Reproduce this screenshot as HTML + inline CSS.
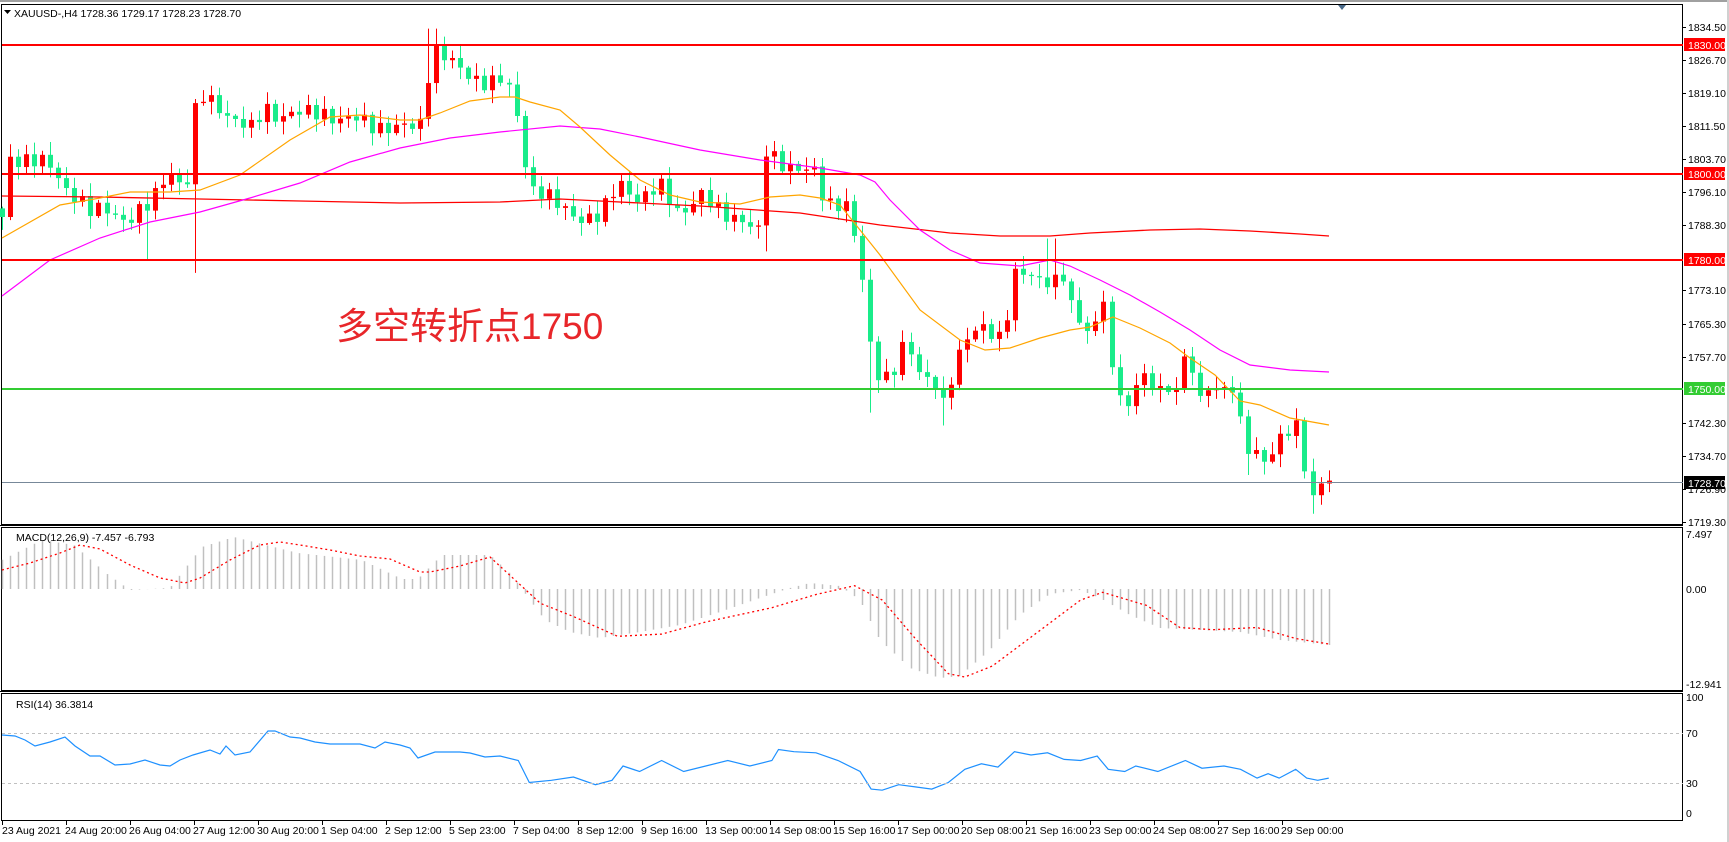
<!DOCTYPE html>
<html><head><meta charset="utf-8"><style>
html,body{margin:0;padding:0;background:#fff;}
svg{display:block;font-family:"Liberation Sans",sans-serif;}
.t{font-size:10.5px;fill:#000;}
</style></head><body>
<svg id="s" width="1729" height="842" viewBox="0 0 1729 842" xmlns="http://www.w3.org/2000/svg">
<rect x="0" y="0" width="1729" height="842" fill="#fff"/>
<rect x="0" y="0" width="1729" height="2" fill="#a0a0a0"/>
<rect x="1727" y="0" width="2" height="842" fill="#d0d0d0"/>
<rect x="1.5" y="4.5" width="1681" height="520" fill="none" stroke="#000" stroke-width="1"/>
<rect x="1.5" y="527.5" width="1681" height="163" fill="none" stroke="#000" stroke-width="1"/>
<rect x="1.5" y="693.5" width="1681" height="127" fill="none" stroke="#000" stroke-width="1"/>
<line x1="0" y1="525.5" x2="1683" y2="525.5" stroke="#000"/>
<line x1="0" y1="691.5" x2="1683" y2="691.5" stroke="#000"/>
<g id="g"></g>
<line x1="2" y1="45" x2="1683" y2="45" stroke="#ff0000" stroke-width="2"/>
<line x1="2" y1="174" x2="1683" y2="174" stroke="#ff0000" stroke-width="2"/>
<line x1="2" y1="260" x2="1683" y2="260" stroke="#ff0000" stroke-width="2"/>
<line x1="2" y1="389" x2="1683" y2="389" stroke="#33cc33" stroke-width="2"/>
<line x1="2" y1="482.5" x2="1683" y2="482.5" stroke="#778899" stroke-width="1"/>
<line x1="2" y1="733.5" x2="1683" y2="733.5" stroke="#c0c0c0" stroke-dasharray="3,3"/>
<line x1="2" y1="783.5" x2="1683" y2="783.5" stroke="#c0c0c0" stroke-dasharray="3,3"/>
<path d="M4 10 L11 10 L7.5 14 Z" fill="#000"/>
<text class="t" x="14" y="17">XAUUSD-,H4  1728.36 1729.17 1728.23 1728.70</text>
<path d="M1338 5 L1346 5 L1342 10 Z" fill="#4a6a8a"/>
<text x="336" y="339" font-family="'Liberation Sans','Noto Sans CJK SC',sans-serif" font-size="37" fill="#e8262a">多空转折点1750</text>
<text class="t" x="16" y="541">MACD(12,26,9) -7.457 -6.793</text>
<text class="t" x="16" y="708">RSI(14) 36.3814</text>
<g class="t">
<text x="1688" y="31">1834.50</text>
<text x="1688" y="64">1826.70</text>
<text x="1688" y="97">1819.10</text>
<text x="1688" y="130">1811.50</text>
<text x="1688" y="163">1803.70</text>
<text x="1688" y="196">1796.10</text>
<text x="1688" y="229">1788.30</text>
<text x="1688" y="294">1773.10</text>
<text x="1688" y="328">1765.30</text>
<text x="1688" y="361">1757.70</text>
<text x="1688" y="427">1742.30</text>
<text x="1688" y="460">1734.70</text>
<text x="1688" y="493">1726.90</text>
<text x="1688" y="526">1719.30</text>
<text x="1686" y="538">7.497</text>
<text x="1686" y="593">0.00</text>
<text x="1686" y="688">-12.941</text>
<text x="1686" y="701">100</text>
<text x="1686" y="737">70</text>
<text x="1686" y="787">30</text>
<text x="1686" y="817">0</text>
</g>
<rect x="1684" y="38" width="41" height="13" fill="#ff0000"/><text class="t" x="1688" y="49" style="fill:#fff">1830.00</text>
<rect x="1684" y="167" width="41" height="13" fill="#ff0000"/><text class="t" x="1688" y="178" style="fill:#fff">1800.00</text>
<rect x="1684" y="253" width="41" height="13" fill="#ff0000"/><text class="t" x="1688" y="264" style="fill:#fff">1780.00</text>
<rect x="1684" y="382" width="41" height="13" fill="#33cc33"/><text class="t" x="1688" y="393" style="fill:#fff">1750.00</text>
<rect x="1684" y="476" width="41" height="13" fill="#000"/><text class="t" x="1688" y="487" style="fill:#fff">1728.70</text>
<g class="t">
<text x="2" y="834">23 Aug 2021</text>
<text x="65" y="834">24 Aug 20:00</text>
<text x="129" y="834">26 Aug 04:00</text>
<text x="193" y="834">27 Aug 12:00</text>
<text x="257" y="834">30 Aug 20:00</text>
<text x="321" y="834">1 Sep 04:00</text>
<text x="385" y="834">2 Sep 12:00</text>
<text x="449" y="834">5 Sep 23:00</text>
<text x="513" y="834">7 Sep 04:00</text>
<text x="577" y="834">8 Sep 12:00</text>
<text x="641" y="834">9 Sep 16:00</text>
<text x="705" y="834">13 Sep 00:00</text>
<text x="769" y="834">14 Sep 08:00</text>
<text x="833" y="834">15 Sep 16:00</text>
<text x="897" y="834">17 Sep 00:00</text>
<text x="961" y="834">20 Sep 08:00</text>
<text x="1025" y="834">21 Sep 16:00</text>
<text x="1089" y="834">23 Sep 00:00</text>
<text x="1153" y="834">24 Sep 08:00</text>
<text x="1217" y="834">27 Sep 16:00</text>
<text x="1281" y="834">29 Sep 00:00</text>
</g>
</svg>
<script>
(function(){
var NS="http://www.w3.org/2000/svg",g=document.getElementById('g');
function el(n,a){var e=document.createElementNS(NS,n);for(var k in a)e.setAttribute(k,a[k]);g.appendChild(e);return e;}
function interp(P,x){if(x<=P[0][0])return P[0][1];for(var i=1;i<P.length;i++){if(x<=P[i][0]){var a=P[i-1],b=P[i];return a[1]+(b[1]-a[1])*(x-a[0])/(b[0]-a[0]);}}return P[P.length-1][1];}
function Y(p){return 45+(1830-p)*4.3;}
for(var i=0;i<21;i++){el('line',{x1:2+64*i+.5,y1:821,x2:2+64*i+.5,y2:825,stroke:'#000'});}
[27,60,93,126,159,192,225,290,324,357,423,456,489,522].forEach(function(y){el('line',{x1:1683,y1:y+.5,x2:1686,y2:y+.5,stroke:'#000'});});
var K=[[2,1790],[10,1804],[30,1803],[50,1802],[66,1797],[75,1795],[90,1791],[110,1792],[125,1789],[140,1791],[150,1793],[165,1800],[175,1801],[185,1793],[192,1812],[200,1818],[215,1817],[230,1813],[250,1810],[265,1816],[280,1813],[300,1814],[320,1815],[340,1812],[360,1813],[380,1811],[400,1810],[420,1812],[432,1829],[440,1828],[455,1825],[470,1823],[490,1821],[505,1822],[512,1817],[520,1811],[528,1797],[540,1796],[560,1792],[580,1790],[600,1790],[620,1798],[640,1794],[660,1797],[680,1791],[700,1795],[720,1791],[740,1790],[758,1786],[765,1805],[780,1803],[800,1801],[815,1800],[825,1793],[845,1794],[855,1785],[865,1771],[873,1754],[890,1753],[905,1761],[921,1752],[937,1752],[944,1746],[952,1754],[968,1762],[984,1765],[1000,1762],[1008,1768],[1016,1777],[1040,1776],[1056,1775],[1061,1778],[1072,1768],[1089,1763.5],[1097,1766.5],[1105,1773],[1113,1751],[1121,1748],[1129,1745.6],[1137,1752],[1145,1754],[1153,1749],[1161,1751],[1169,1749],[1177,1750],[1185,1758.8],[1193,1753],[1201,1747.7],[1209,1750],[1217,1750],[1225,1750.5],[1233,1749],[1241,1743],[1249,1734],[1257,1736],[1265,1732.8],[1273,1735],[1281,1740],[1289,1739],[1297,1743],[1305,1730],[1313,1725],[1321,1728.2],[1329,1728.7]];
var N=166,prev=1792;
for(var i=0;i<N;i++){
 var x=2+i*8.04; if(i==N-1)x=1329;
 var c=interp(K,x);
 var jit=(x<1105)?(1.6*Math.sin(i*2.7)+0.8*Math.sin(i*5.3)):0;
 c+=jit;
 var o=prev; if(Math.abs(c-o)<0.25)c=o+0.3;
 var hi=Math.max(o,c)+0.4+Math.abs(Math.sin(i*1.3))*2.6;
 var lo=Math.min(o,c)-0.4-Math.abs(Math.cos(i*1.7))*2.6;
 if(Math.abs(x-432)<5)hi=1833.8; if(Math.abs(x-146)<5)lo=1780; if(Math.abs(x-194)<5)lo=1777;
 if(Math.abs(x-873)<5)lo=1744.5; if(Math.abs(x-944)<5)lo=1741.5; if(Math.abs(x-1052)<5)hi=1785; if(Math.abs(x-1249)<5)lo=1730;
 if(Math.abs(x-1313)<5)lo=1721; if(Math.abs(x-765)<5)lo=1782;
 var col=c>=o?'#ff0000':'#19ec8a';
 var cx=Math.round(x)+0.5;
 el('line',{x1:cx,y1:Y(hi),x2:cx,y2:Y(lo),stroke:col,'stroke-width':1});
 var yt=Y(Math.max(o,c)),yb=Y(Math.min(o,c));
 el('rect',{x:Math.round(x)-2,y:yt,width:5,height:Math.max(1,yb-yt),fill:col});
 prev=c;
}
function poly(P,col,w,dash){el('polyline',{points:P.map(function(p){return p[0]+','+p[1];}).join(' '),fill:'none',stroke:col,'stroke-width':w||1,'stroke-dasharray':dash||'none'});}
poly([[2,196],[100,197],[200,199],[300,201],[400,203],[500,202],[560,199],[600,201],[700,206],[800,213],[880,225],[950,233],[1000,236],[1050,236],[1090,233],[1150,230],[1200,229],[1250,231],[1300,234],[1329,236]],'#ff0000',1.3);
poly([[2,296],[50,260],[100,238],[150,222],[200,212],[250,198],[300,183],[350,162],[400,148],[450,138],[500,132],[560,126],[600,129],[640,137],[700,150],[760,160],[820,168],[860,175],[875,182],[890,200],[920,230],[950,250],[980,263],[1020,266],[1050,260],[1070,266],[1100,280],[1130,295],[1160,312],[1190,330],[1220,350],[1250,365],[1290,370],[1329,372]],'#ff00ff',1.2);
poly([[2,238],[60,205],[100,198],[130,192],[170,192],[200,190],[240,175],[290,140],[330,117],[360,115],[400,120],[420,120],[440,113],[470,101],[500,97],[515,97],[530,102],[560,110],[580,127],[610,155],[640,180],[670,195],[700,202],[740,204],[770,197],[800,195],[820,198],[840,205],[860,230],[880,255],[920,310],[960,340],[985,350],[1010,348],[1040,338],[1070,330],[1090,327],[1113,317],[1140,328],[1170,343],[1190,358],[1215,375],[1240,401],[1260,405],[1290,418],[1329,425]],'#ffa500',1.2);
var H=[[2,560],[42,540],[74,545],[106,573],[130,590],[170,588],[202,547],[234,537],[298,553],[362,560],[402,579],[418,579],[442,555],[490,555],[512,575],[530,600],[545,620],[570,632],[600,638],[640,632],[680,625],[720,612],[760,598],[790,588],[810,583],[840,586],[860,600],[880,640],[910,668],[940,678],[960,676],[990,650],[1020,615],[1050,594],[1080,590],[1100,598],[1130,615],[1160,628],[1200,630],[1240,632],[1280,640],[1329,645]];
for(var i=0;i<N;i++){var x=Math.round(2+i*8.04)+0.5;if(i==N-1)x=1329.5;var y=interp(H,x);el('line',{x1:x,y1:589,x2:x,y2:y,stroke:'#c0c0c0','stroke-width':1.5});}
function tr(P){return P.map(function(p){return [p[0]*1.1027,589+(p[1]-535)*1.1];});}
var S=[[2,570],[30,563],[60,553],[80,545],[100,549],[130,565],[160,578],[185,583],[200,578],[230,560],[260,545],[280,542],[300,545],[330,550],[360,556],[390,559],[420,572],[430,572],[460,566],[490,557]].concat(tr([[470,541],[490,548],[520,560],[560,578],[600,576],[640,565],[700,552],[740,540],[775,532],[800,545],[830,580],[860,612],[875,615],[900,605],[940,575],[980,545],[1000,538],[1040,550],[1070,570],[1100,572],[1140,570],[1175,580],[1205,585]]).slice(1));
poly(S,'#ff0000',1.3,'2,3');
var R=[[2,735],[15,736],[25,740],[35,746],[50,742],[65,737],[75,746],[90,756],[100,756],[115,765],[130,764],[145,760],[160,765],[170,766],[180,760],[193,755],[210,750],[220,754],[226,746],[235,755],[250,752],[268,731],[275,731],[290,737],[300,738],[315,742],[330,744],[360,744],[375,748],[385,742],[400,745],[410,748],[418,758],[435,752],[460,752],[470,753],[485,757],[500,756]];
var R2=[[470,690],[480,710],[500,708],[520,705],[540,712],[555,708],[565,695],[580,700],[600,690],[620,700],[640,695],[660,690],[680,695],[700,690],[706,680],[720,682],[740,683],[760,690],[780,700],[790,716],[800,717],[815,712],[830,714],[845,716],[860,710],[875,698],[890,693],[905,696],[920,682],[935,685],[950,683],[965,689],[980,690],[995,686],[1005,698],[1020,700],[1030,695],[1050,700],[1075,690],[1090,697],[1110,695],[1125,698],[1140,706],[1150,702],[1160,706],[1175,698],[1185,706],[1195,708],[1205,706]].map(function(p){return [p[0]*1.1027,733+(p[1]-665)*1.1];});
poly(R.concat(R2.filter(function(p){return p[0]>505;})),'#1e90ff',1.2);
})();
</script>
</body></html>
